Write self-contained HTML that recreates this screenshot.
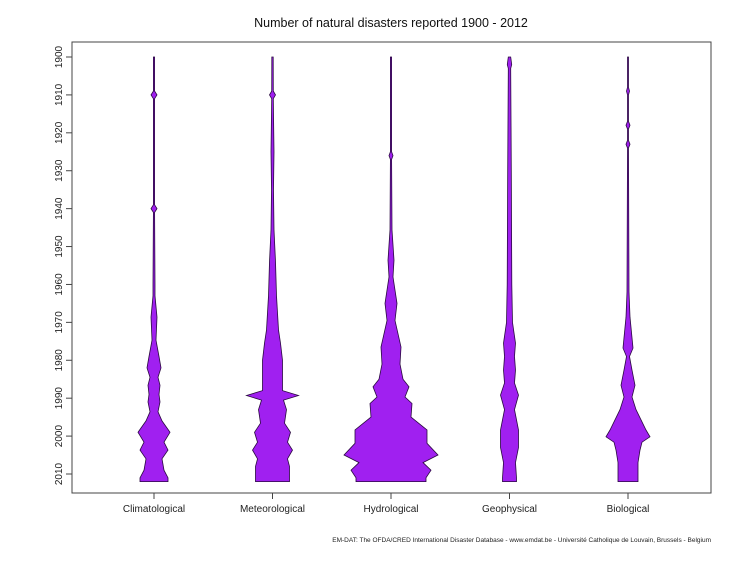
<!DOCTYPE html>
<html><head><meta charset="utf-8"><style>
body{margin:0;background:#fff;}
svg text{font-family:"Liberation Sans",Arial,sans-serif;}
</style></head><body>
<svg id="chart" width="754" height="566" xmlns="http://www.w3.org/2000/svg">
<rect width="754" height="566" fill="#fff"/>
<text x="391" y="27" text-anchor="middle" font-size="12.5" fill="#111">Number of natural disasters reported 1900 - 2012</text>
<rect x="72" y="42" width="639" height="451" fill="none" stroke="#444" stroke-width="1"/>
<g id="yaxis"></g>
<g id="xaxis"></g>
<g id="beans"></g>
<text x="711" y="542" text-anchor="end" font-size="6.5" fill="#222">EM-DAT: The OFDA/CRED International Disaster Database - www.emdat.be - Université Catholique de Louvain, Brussels - Belgium</text>
</svg>
<script>
const categories=["Climatological","Meteorological","Hydrological","Geophysical","Biological"];
const yTicks=[1900,1910,1920,1930,1940,1950,1960,1970,1980,1990,2000,2010];
const climYears=[1900,1909,1910,1911,1939,1940,1941,1960,1963,1968.6,1974.7,1979,1982,1984.5,1986.6,1989,1991,1993.6,1996,1999,2001.6,2003.7,2006,2009,2011,2012];
const climVals=[0.6,0.6,3,0.6,0.6,3,0.6,1,1,3,2,5,7,4,6,5,6,4,8,16,10,14,8,10,14,14];
const metYears=[1900,1909,1910,1911,1925,1935,1945.6,1954,1963,1972,1975.5,1980,1984.5,1988,1989.3,1990.5,1993,1996.6,1999,2001.6,2003.7,2006,2008,2011,2012];
const metVals=[0.7,0.8,3,0.8,1.5,1,1.5,3,4,6,8,10,10,10,26,11,14,12,18,15,20,15,17,17,17];
const hydYears=[1900,1925,1926,1927,1945.6,1953.6,1958,1965,1969.5,1976.5,1981,1985,1987,1989.7,1991.4,1995,1998.4,2001.9,2005,2007,2009,2011,2012];
const hydVals=[0.6,0.6,2,0.6,1,3,2,6,4,10,9,12,18,14,21,20,36,36,47,32,40,35,35];
const geoYears=[1900,1902,1903,1930,1960,1970,1975.5,1979,1982.6,1986,1989.2,1993,1998.4,2003,2007,2011,2012];
const geoVals=[1.2,2.2,1.2,1.8,2.3,3,6,5,6,5,9,5,9,9,6,7,7];
const bioYears=[1900,1908,1909,1910,1917,1918,1919,1922,1923,1924,1962,1968.6,1976.8,1979,1982.6,1986.6,1989.7,1993,1998.4,2000.2,2001.6,2003.7,2007,2011,2012];
const bioVals=[0.5,0.5,1.5,0.5,0.5,2,0.5,0.5,2,0.5,1,2,5,1.5,4,7,4,8,18,22,14,12,10,10,10];
const seriesYears=[climYears,metYears,hydYears,geoYears,bioYears];
const seriesVals=[climVals,metVals,hydVals,geoVals,bioVals];
const NS="http://www.w3.org/2000/svg";
function yScale(yr){return 57+(yr-1900)*(417/110);}
function xScale(i){return 154+i*118.5;}
function wScale(v){return v;}
const ya=document.getElementById('yaxis');
yTicks.forEach(t=>{
 const y=yScale(t);
 const l=document.createElementNS(NS,'line');
 
 
 l.setAttribute('x1',66);l.setAttribute('x2',72);l.setAttribute('y1',y);l.setAttribute('y2',y);l.setAttribute('stroke','#444');
 ya.appendChild(l);
 const tx=document.createElementNS(NS,'text');
 
 
 tx.setAttribute('transform','translate(62,'+y+') rotate(-90)');
 tx.setAttribute('text-anchor','middle');tx.setAttribute('font-size','10');tx.setAttribute('fill','#222');
 tx.textContent=t;ya.appendChild(tx);
});
const yl=document.createElementNS(NS,'line');


yl.setAttribute('x1',72);yl.setAttribute('x2',72);yl.setAttribute('y1',yScale(1900));yl.setAttribute('y2',yScale(2010));yl.setAttribute('stroke','#444');
ya.appendChild(yl);
const xa=document.getElementById('xaxis');
const xl=document.createElementNS(NS,'line');


xl.setAttribute('x1',95);xl.setAttribute('x2',688);xl.setAttribute('y1',493);xl.setAttribute('y2',493);xl.setAttribute('stroke','#444');
xa.appendChild(xl);
const beans=document.getElementById('beans');
categories.forEach((c,i)=>{
 const cx=xScale(i);
 const tk=document.createElementNS(NS,'line');
 
 
 tk.setAttribute('x1',cx);tk.setAttribute('x2',cx);tk.setAttribute('y1',493);tk.setAttribute('y2',499);tk.setAttribute('stroke','#444');
 xa.appendChild(tk);
 const tx=document.createElementNS(NS,'text');
 
 
 tx.setAttribute('x',cx);tx.setAttribute('y',512);tx.setAttribute('text-anchor','middle');tx.setAttribute('font-size','10');tx.setAttribute('fill','#222');
 tx.textContent=c;xa.appendChild(tx);
 const ys=seriesYears[i],vs=seriesVals[i];
 const ax=document.createElementNS(NS,'line');
 
 
 ax.setAttribute('x1',cx);ax.setAttribute('x2',cx);ax.setAttribute('y1',yScale(ys[0]));ax.setAttribute('y2',yScale(ys[ys.length-1]));ax.setAttribute('stroke','#000');ax.setAttribute('stroke-width','1');
 beans.appendChild(ax);
 let right=[],left=[];
 for(let k=0;k<ys.length;k++){const y=yScale(ys[k]);const w=wScale(vs[k]);right.push((cx+w).toFixed(1)+','+y.toFixed(1));left.unshift((cx-w).toFixed(1)+','+y.toFixed(1));}
 const p=document.createElementNS(NS,'polygon');
 
 
 p.setAttribute('points',right.concat(left).join(' '));
 p.setAttribute('fill','#a020f0');p.setAttribute('stroke','#2a0a40');p.setAttribute('stroke-width','0.8');
 beans.appendChild(p);
});
</script>
</body></html>
